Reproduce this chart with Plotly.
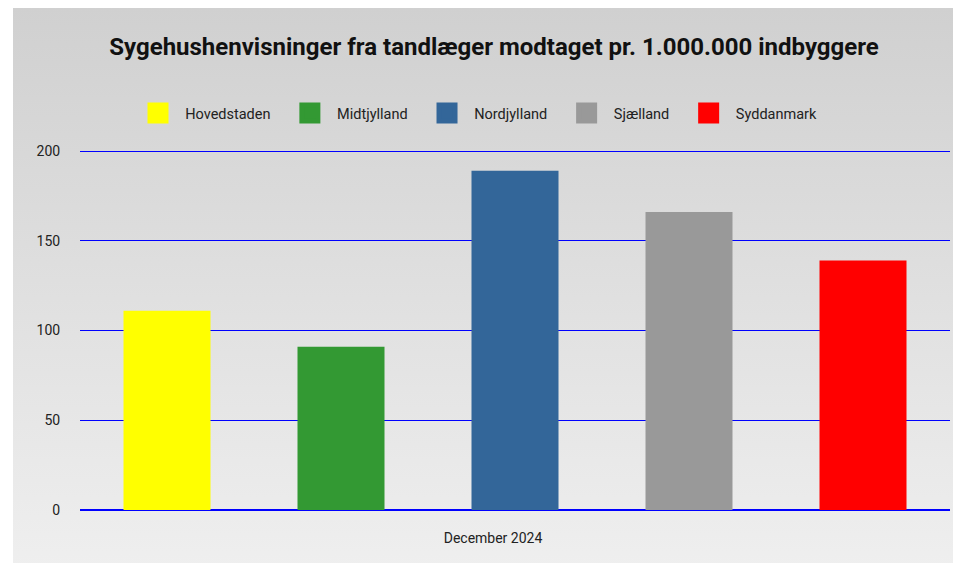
import base64
import plotly.graph_objects as go

regions = ["Hovedstaden", "Midtjylland", "Nordjylland", "Sjælland", "Syddanmark"]
values = [111, 91, 189, 166, 139]
colors = ["#ffff00", "#339933", "#336699", "#999999", "#ff0000"]
period = ["December 2024"]

W, H = 961, 563
ML, MR, MT, MB = 72, 19, 142, 61
plot_w = W - ML - MR
plot_h = H - MT - MB

fig = go.Figure()
for name, v, c in zip(regions, values, colors):
    fig.add_trace(go.Bar(x=period, y=[v], name=name, marker=dict(color=c, line=dict(width=0)),
                         showlegend=False))
NB = "\u00a0"
for name, c in zip(regions, colors):
    fig.add_trace(go.Scatter(x=[None], y=[None], mode="markers", name=NB * 2 + name + NB * 4,
                             marker=dict(symbol="square", size=16, color=c,
                                         line=dict(color=c, width=5)),
                             showlegend=True))

svg = ('<svg xmlns="http://www.w3.org/2000/svg" width="100" height="100" preserveAspectRatio="none">'
       '<defs><linearGradient id="g" x1="0" y1="0" x2="0" y2="1">'
       '<stop offset="0" stop-color="#d0d0d0"/><stop offset="1" stop-color="#efefef"/>'
       '</linearGradient></defs><rect width="100" height="100" fill="url(#g)"/></svg>')
src = "data:image/svg+xml;base64," + base64.b64encode(svg.encode()).decode()


def px_x(p):
    return (p - ML) / plot_w


def px_y(p):
    return (H - MB - p) / plot_h


fig.add_layout_image(dict(source=src, xref="paper", yref="paper",
                          x=px_x(5), y=px_y(0), sizex=px_x(W) - px_x(5), sizey=px_y(0) - px_y(H),
                          xanchor="left", yanchor="top", sizing="stretch", layer="below"))

fig.update_layout(
    width=W, height=H,
    margin=dict(l=ML, r=MR, t=MT, b=MB),
    paper_bgcolor="white",
    plot_bgcolor="rgba(0,0,0,0)",
    font=dict(family="Roboto", size=14, color="#222222"),
    title=dict(text="<b>Sygehushenvisninger fra tandlæger modtaget pr. 1.000.000 indbyggere</b>",
               x=486 / W, xanchor="center", y=1 - 39 / H, yanchor="middle",
               font=dict(family="Roboto", size=24, color="#111111")),
    barmode="group", bargap=0, bargroupgap=0.5,
    legend=dict(orientation="h", x=px_x(130), xanchor="left", y=px_y(105), yanchor="middle",
                bgcolor="rgba(0,0,0,0)", font=dict(size=14.5, color="#222222"),
                itemclick=False, itemdoubleclick=False),
    xaxis=dict(showgrid=False, zeroline=False, showline=False, ticks="outside", ticklen=15,
               tickcolor="rgba(0,0,0,0)", tickfont=dict(size=14, color="#222222"),
               ticklabelshift=-22, fixedrange=True),
    yaxis=dict(range=[0, 200.6], tickvals=[0, 50, 100, 150, 200], showgrid=True, gridcolor="#0000ff",
               gridwidth=1.4, zeroline=True, zerolinecolor="#0000ff", zerolinewidth=2,
               showline=False, ticks="outside", ticklen=16, tickcolor="rgba(0,0,0,0)",
               tickfont=dict(size=14, color="#222222"), fixedrange=True),
)

fig.write_html("out.html")
